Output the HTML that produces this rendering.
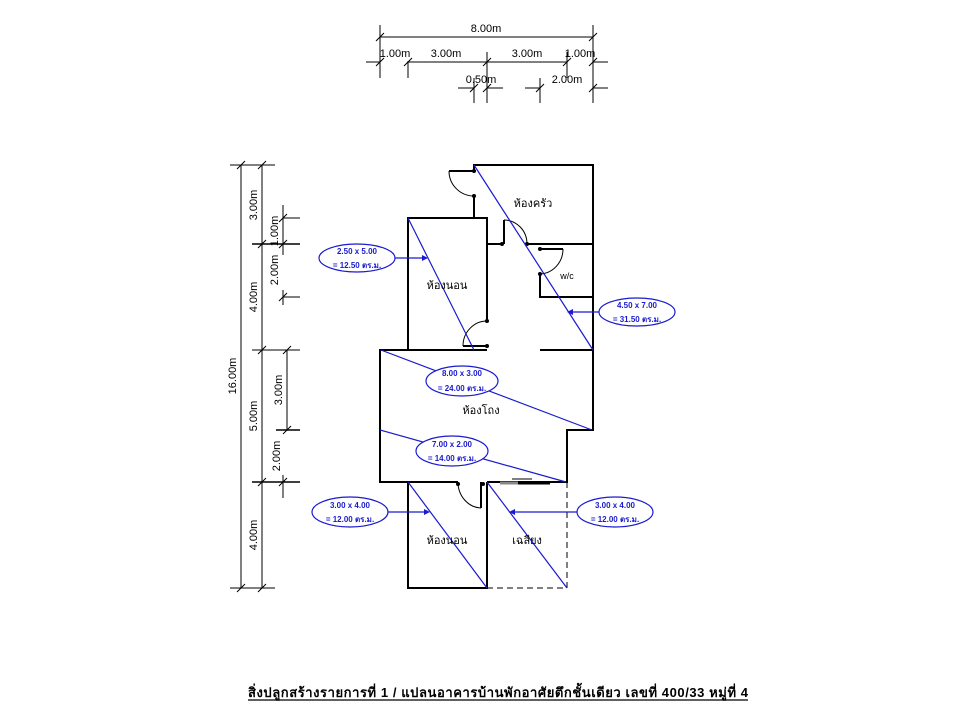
<!DOCTYPE html>
<html><head><meta charset="utf-8"><style>
html,body{margin:0;padding:0;background:#fff;width:960px;height:720px;overflow:hidden}
svg{display:block}
text{font-family:"Liberation Sans","Noto Sans CJK SC",sans-serif}
</style></head><body>
<svg width="960" height="720" viewBox="0 0 960 720" xmlns="http://www.w3.org/2000/svg">
<g stroke="#000" stroke-width="1" fill="none">
<line x1="380" y1="37" x2="593" y2="37"/>
<line x1="380" y1="25" x2="380" y2="78"/>
<line x1="593" y1="25" x2="593" y2="103"/>
<line x1="366" y1="62" x2="380" y2="62"/>
<line x1="407" y1="62" x2="567" y2="62"/>
<line x1="593" y1="62" x2="608" y2="62"/>
<line x1="408" y1="62" x2="408" y2="78"/>
<line x1="487" y1="52" x2="487" y2="103"/>
<line x1="567" y1="52" x2="567" y2="78"/>
<line x1="458" y1="88" x2="474" y2="88"/><line x1="474" y1="78" x2="474" y2="103"/>
<line x1="487" y1="88" x2="503" y2="88"/>
<line x1="525" y1="88" x2="540" y2="88"/><line x1="540" y1="78" x2="540" y2="103"/>
<line x1="593" y1="88" x2="608" y2="88"/>
<line x1="241" y1="165" x2="241" y2="588"/>
<line x1="262" y1="165" x2="262" y2="588"/>
<line x1="230" y1="165" x2="275" y2="165"/>
<line x1="230" y1="588" x2="275" y2="588"/>
<line x1="252" y1="244" x2="300" y2="244" stroke-width="1.5"/>
<line x1="252" y1="350" x2="300" y2="350"/>
<line x1="252" y1="482" x2="300" y2="482" stroke-width="1.5"/>
<line x1="283" y1="205" x2="283" y2="255"/>
<line x1="283" y1="218" x2="300" y2="218"/>
<line x1="283" y1="290" x2="283" y2="305"/>
<line x1="283" y1="297" x2="300" y2="297"/>
<line x1="287" y1="350" x2="287" y2="430"/>
<line x1="276" y1="430" x2="300" y2="430" stroke-width="1.5"/>
<line x1="283" y1="475" x2="283" y2="498"/>
</g>
<g stroke="#000" stroke-width="1">
<path d="M376 41l8-8M404 66l8-8M483 66l8-8M563 66l8-8M589 41l8-8M376 66l8-8M589 66l8-8M470 92l8-8M483 92l8-8M536 92l8-8M589 92l8-8"/>
<path d="M237 169l8-8M258 169l8-8M237 592l8-8M258 592l8-8M258 248l8-8M258 354l8-8M258 486l8-8M279 222l8-8M279 248l8-8M279 301l8-8M283 354l8-8M283 434l8-8M279 486l8-8"/>
</g>
<g font-size="11" fill="#000">
<text x="486" y="32" text-anchor="middle">8.00m</text>
<text x="395" y="57" text-anchor="middle">1.00m</text>
<text x="446" y="57" text-anchor="middle">3.00m</text>
<text x="527" y="57" text-anchor="middle">3.00m</text>
<text x="580" y="57" text-anchor="middle">1.00m</text>
<text x="481" y="83" text-anchor="middle">0.50m</text>
<text x="567" y="83" text-anchor="middle">2.00m</text>
<g text-anchor="middle">
<text transform="translate(236,376) rotate(-90)">16.00m</text>
<text transform="translate(257,205) rotate(-90)">3.00m</text>
<text transform="translate(257,297) rotate(-90)">4.00m</text>
<text transform="translate(257,416) rotate(-90)">5.00m</text>
<text transform="translate(257,535) rotate(-90)">4.00m</text>
<text transform="translate(278,231) rotate(-90)">1.00m</text>
<text transform="translate(278,270) rotate(-90)">2.00m</text>
<text transform="translate(282,390) rotate(-90)">3.00m</text>
<text transform="translate(280,456) rotate(-90)">2.00m</text>
</g>
</g>
<g stroke="#000" stroke-width="2" fill="none">
<polyline points="474,171 474,165 593,165 593,350"/>
<line x1="474" y1="196" x2="474" y2="218"/>
<polyline points="487,321 487,218 408,218 408,350"/>
<line x1="487" y1="346" x2="463" y2="346"/>
<line x1="487" y1="244" x2="502" y2="244"/>
<line x1="504" y1="220" x2="504" y2="244"/>
<line x1="527" y1="244" x2="593" y2="244"/>
<line x1="540" y1="249" x2="563" y2="249"/>
<polyline points="540,274 540,297 593,297"/>
<line x1="474" y1="171" x2="449" y2="171"/>
<polyline points="487,350 380,350 380,482 458,482"/>
<line x1="540" y1="350" x2="593" y2="350"/>
<polyline points="593,350 593,430 567,430 567,482 487,482"/>
<line x1="481" y1="482" x2="481" y2="508"/>
<polyline points="487,482 487,588 408,588 408,482"/>
</g>
<g stroke="#000" stroke-width="1" fill="none">
<path d="M449 171 A25 25 0 0 0 474 196"/>
<path d="M504 220 A23 24 0 0 1 527 244"/>
<path d="M563 249 A24 25 0 0 1 540 274"/>
<path d="M463 346 A24 25 0 0 1 487 321"/>
<path d="M458 482 A24 26 0 0 0 481 508"/>
<line x1="567" y1="482" x2="567" y2="588" stroke-dasharray="6,4"/>
<line x1="487" y1="588" x2="567" y2="588" stroke-dasharray="6,4"/>
<line x1="512" y1="479" x2="532" y2="479"/>
</g>
<line x1="500" y1="483" x2="520" y2="483" stroke="#888" stroke-width="3"/>
<line x1="518" y1="483" x2="550" y2="483" stroke="#000" stroke-width="3"/>
<g fill="#000"><circle cx="474" cy="171" r="2"/><circle cx="474" cy="196" r="2"/><circle cx="487" cy="321" r="2"/><circle cx="487" cy="346" r="2"/><circle cx="502" cy="244" r="2"/><circle cx="527" cy="244" r="2"/><circle cx="540" cy="249" r="2"/><circle cx="540" cy="274" r="2"/><circle cx="458" cy="484" r="2"/><circle cx="483" cy="484" r="2"/></g>
<g stroke="#1a1ad0" stroke-width="1.2" fill="none">
<line x1="474" y1="165" x2="593" y2="350"/>
<line x1="408" y1="218" x2="474" y2="350"/>
<line x1="381" y1="350" x2="592" y2="430"/>
<line x1="380" y1="430" x2="566" y2="482"/>
<line x1="408" y1="482" x2="487" y2="588"/>
<line x1="487" y1="482" x2="567" y2="588"/>
<line x1="395" y1="258" x2="425" y2="258"/>
<line x1="600" y1="312" x2="570" y2="312"/>
<line x1="388" y1="512" x2="427" y2="512"/>
<line x1="578" y1="512" x2="512" y2="512"/>
</g>
<g fill="#1a1ad0"><path d="M428 258l-6-3v6z"/><path d="M567 312l6-3v6z"/><path d="M430 512l-6-3v6z"/><path d="M509 512l6-3v6z"/></g>
<g stroke="#1a1ad0" stroke-width="1.2" fill="#fff">
<ellipse cx="357" cy="258" rx="38" ry="14"/>
<ellipse cx="637" cy="312" rx="38" ry="14"/>
<ellipse cx="462" cy="381" rx="36" ry="15"/>
<ellipse cx="452" cy="451" rx="36" ry="15"/>
<ellipse cx="350" cy="512" rx="38" ry="15"/>
<ellipse cx="615" cy="512" rx="38" ry="15"/>
</g>
<g font-size="8" fill="#1a1ad0" font-weight="bold" text-anchor="middle">
<text x="357" y="254">2.50 x 5.00</text><text x="357" y="268">= 12.50 ตร.ม.</text>
<text x="637" y="308">4.50 x 7.00</text><text x="637" y="322">= 31.50 ตร.ม.</text>
<text x="462" y="376">8.00 x 3.00</text><text x="462" y="391">= 24.00 ตร.ม.</text>
<text x="452" y="447">7.00 x 2.00</text><text x="452" y="461">= 14.00 ตร.ม.</text>
<text x="350" y="508">3.00 x 4.00</text><text x="350" y="522">= 12.00 ตร.ม.</text>
<text x="615" y="508">3.00 x 4.00</text><text x="615" y="522">= 12.00 ตร.ม.</text>
</g>
<g font-size="11" fill="#000" text-anchor="middle">
<text x="533" y="207">ห้องครัว</text>
<text x="567" y="279" font-size="9">w/c</text>
<text x="447" y="289">ห้องนอน</text>
<text x="481" y="414">ห้องโถง</text>
<text x="447" y="544">ห้องนอน</text>
<text x="527" y="544">เฉลียง</text>
</g>
<text x="248" y="697" font-size="13" font-weight="bold" textLength="500" lengthAdjust="spacing" fill="#000">สิ่งปลูกสร้างรายการที่ 1 / แปลนอาคารบ้านพักอาศัยตึกชั้นเดียว เลขที่ 400/33 หมู่ที่ 4</text>
<line x1="248" y1="700" x2="748" y2="700" stroke="#000" stroke-width="1.2"/>
</svg>
</body></html>
